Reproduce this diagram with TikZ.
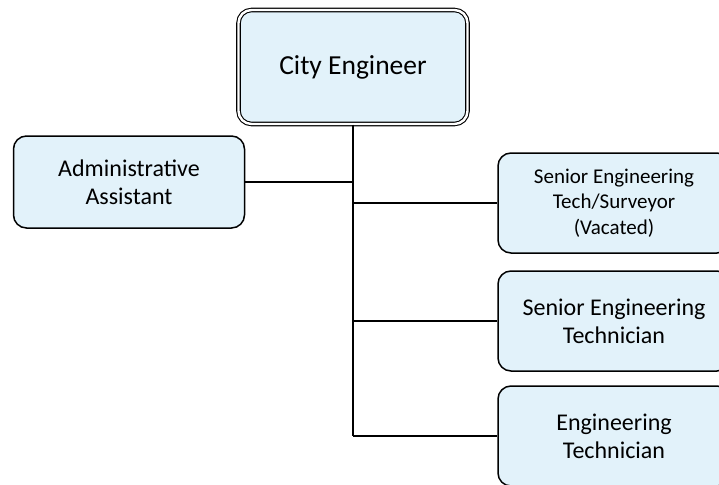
\documentclass[tikz,border=0pt]{standalone}
\usepackage{fontspec}
\setmainfont{Carlito}
\usetikzlibrary{positioning}
\definecolor{boxblue}{RGB}{226,242,250}

\begin{document}
\begin{tikzpicture}[
            x=1pt, y=-1pt,
            role_block/.style={rectangle, draw, fill=boxblue, line width=1.5pt, rounded corners=13pt, align=center},
            head_block/.style={role_block, double, double distance=2.4pt, line width=1.1pt, minimum width=229pt, minimum height=114pt, font=\fontsize{27.5}{32}\selectfont},
            staff_block/.style={role_block, minimum width=232pt, minimum height=100pt, font=\fontsize{24}{28}\selectfont},
            small_block/.style={staff_block, font=\fontsize{21}{25.5}\selectfont},
            link/.style={draw, line width=1.8pt}
        ]
            \useasboundingbox (0,0) rectangle (719,484);
            \clip (0,0) rectangle (719,484);

            % --- Place the main nodes ---
            \node[head_block] (engineer) at (353,67) {City Engineer};
            \node[staff_block, minimum width=231pt, minimum height=92pt] (assistant) at (129,182) {Administrative\\Assistant};

            % --- Staff on the right ---
            \node[small_block] (surveyor) at (614,203) {Senior Engineering\\Tech/Surveyor\\(Vacated)};
            \node[staff_block] (senior) at (614,321) {Senior Engineering\\Technician};
            \node[staff_block] (tech) at (614,436) {Engineering\\Technician};

            % --- Connect the boxes ---
            \draw[link] (engineer.south) -- (engineer.south |- tech.west);
            \draw[link] (assistant.east) -- (assistant.east -| engineer.south);
            \draw[link] (engineer.south |- surveyor.west) -- (surveyor.west);
            \draw[link] (engineer.south |- senior.west) -- (senior.west);
            \draw[link] (engineer.south |- tech.west) -- (tech.west);

        \end{tikzpicture}
\end{document}
